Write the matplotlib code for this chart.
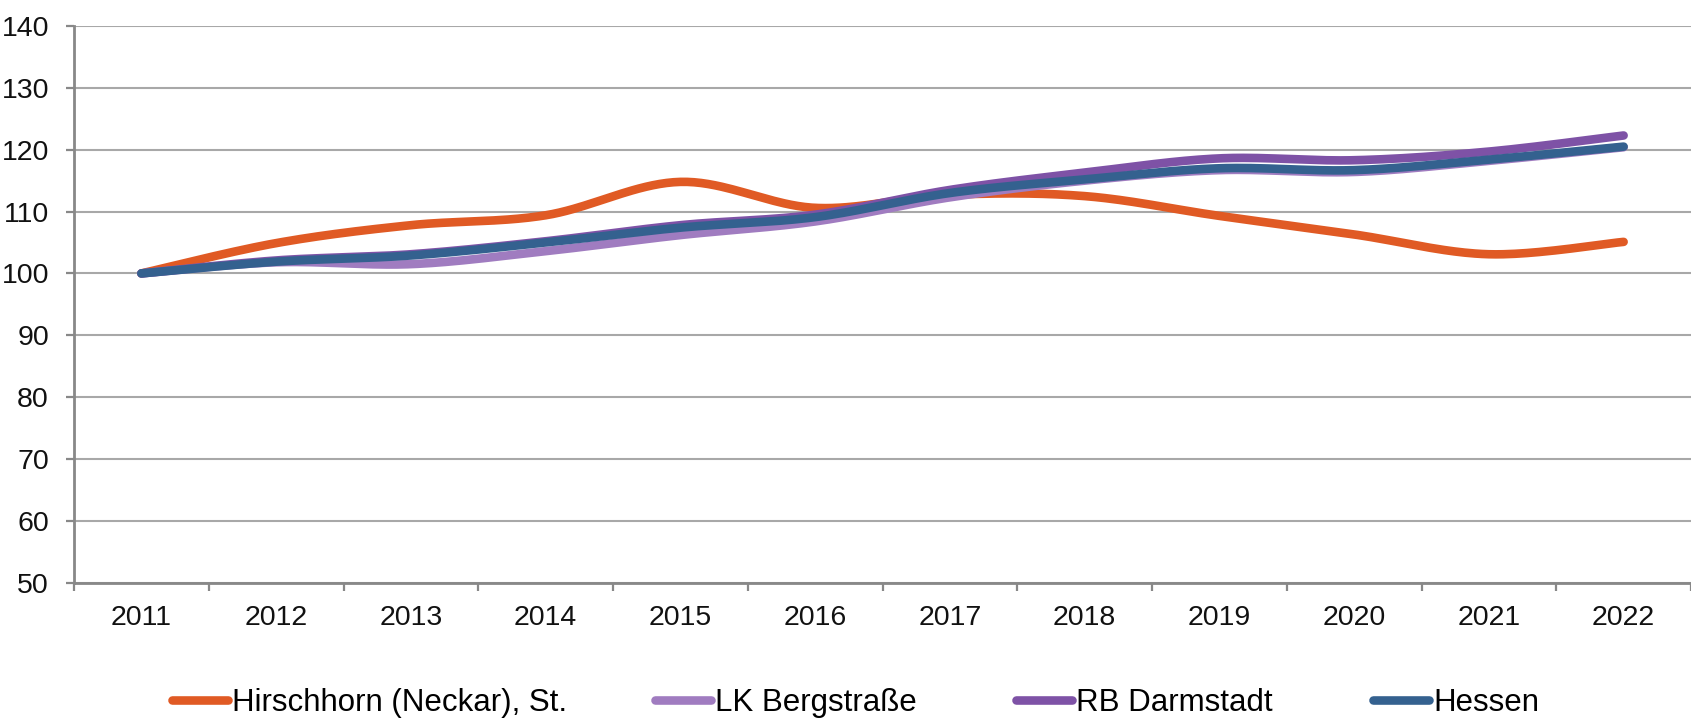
import numpy as np
import matplotlib
matplotlib.use("Agg")
import matplotlib.pyplot as plt
from matplotlib import font_manager

# --- data -----------------------------------------------------------------
years = ["2011", "2012", "2013", "2014", "2015", "2016",
         "2017", "2018", "2019", "2020", "2021", "2022"]

hirschhorn = [100.0, 104.9, 107.8, 109.4, 114.8, 110.6,
              112.7, 112.5, 109.3, 106.3, 103.1, 105.1]
lk_bergstrasse = [100.0, 101.8, 101.5, 103.6, 106.2, 108.4,
                  112.3, 115.0, 116.7, 116.4, 118.2, 120.4]
rb_darmstadt = [100.0, 102.1, 103.1, 105.2, 107.8, 109.5,
                113.5, 116.3, 118.6, 118.3, 119.7, 122.3]
hessen = [100.0, 101.9, 102.9, 105.0, 107.4, 109.1,
          113.0, 115.2, 117.0, 116.7, 118.4, 120.5]

series_names = ["Hirschhorn (Neckar), St.", "LK Bergstraße", "RB Darmstadt", "Hessen"]
series_values = [hirschhorn, lk_bergstrasse, rb_darmstadt, hessen]
series_colors = ["#E05A24", "#A07CC0", "#7E52A6", "#34618F"]

y_ticks = [50, 60, 70, 80, 90, 100, 110, 120, 130, 140]

# --- fonts ----------------------------------------------------------------
installed = {f.name for f in font_manager.fontManager.ttflist}
families = [f for f in ["Liberation Sans Narrow", "Liberation Sans", "DejaVu Sans"] if f in installed]
plt.rcParams["font.family"] = families


def smooth(xs, ys, n=40):
    """Catmull-Rom style Bezier smoothing through every point."""
    xs = np.asarray(xs, float)
    ys = np.asarray(ys, float)
    px = np.concatenate([[xs[0]], xs, [xs[-1]]])
    py = np.concatenate([[ys[0]], ys, [ys[-1]]])
    out_x, out_y = [], []
    t = np.linspace(0, 1, n)
    for i in range(1, len(px) - 2):
        p0 = np.array([px[i], py[i]])
        p3 = np.array([px[i + 1], py[i + 1]])
        c1 = p0 + (np.array([px[i + 1], py[i + 1]]) - np.array([px[i - 1], py[i - 1]])) / 6
        c2 = p3 - (np.array([px[i + 2], py[i + 2]]) - np.array([px[i], py[i]])) / 6
        b = ((1 - t) ** 3)[:, None] * p0 + (3 * (1 - t) ** 2 * t)[:, None] * c1 \
            + (3 * (1 - t) * t ** 2)[:, None] * c2 + (t ** 3)[:, None] * p3
        if i > 1:
            b = b[1:]
        out_x.extend(b[:, 0])
        out_y.extend(b[:, 1])
    return np.array(out_x), np.array(out_y)


W, H = 1691, 724
fig = plt.figure(figsize=(W / 100, H / 100), dpi=100)
ax = fig.add_axes([74 / W, 1 - 582.7 / H, (W - 74) / W, (582.7 - 26) / H])

x = np.arange(len(years))
handles = []
for name, vals, col in zip(series_names, series_values, series_colors):
    sx, sy = smooth(x, vals)
    ln, = ax.plot(sx, sy, color=col, lw=6.2, solid_capstyle="round",
                  solid_joinstyle="round", label=name, zorder=3)
    handles.append(ln)

ax.set_xlim(-0.5, len(years) - 0.5)
ax.set_ylim(50, 140)

# y axis
ax.set_yticks(y_ticks)
ax.yaxis.grid(True, color="#A8A8A8", lw=1.5)
ax.set_axisbelow(True)
ax.tick_params(axis="y", length=6, width=1.6, color="#888888", pad=12,
               labelsize=20.5, labelcolor="#111111")

# x axis: tick marks between categories, labels at centres
ax.set_xticks(np.arange(-0.5, len(years), 1.0))
ax.set_xticklabels([])
ax.set_xticks(x, minor=True)
ax.set_xticklabels(years, minor=True)
ax.tick_params(axis="x", which="major", length=6, width=1.6, color="#888888")
ax.tick_params(axis="x", which="minor", length=0, pad=16, labelsize=20.5,
               labelcolor="#111111")

for side in ["top", "right"]:
    ax.spines[side].set_visible(False)
for side in ["left", "bottom"]:
    ax.spines[side].set_color("#888888")
    ax.spines[side].set_linewidth(2.0)

# legend entries, one per series, laid out along the bottom
legend_x = [172, 655, 1016, 1373]
for h, lx in zip(handles, legend_x):
    fig.legend(handles=[h], loc="center left", bbox_to_anchor=(lx / W, 1 - 703 / H),
               frameon=False, fontsize=22.5, handlelength=1.8,
               handletextpad=0.12, borderpad=0, borderaxespad=0)

fig.savefig("out.png", dpi=100)
